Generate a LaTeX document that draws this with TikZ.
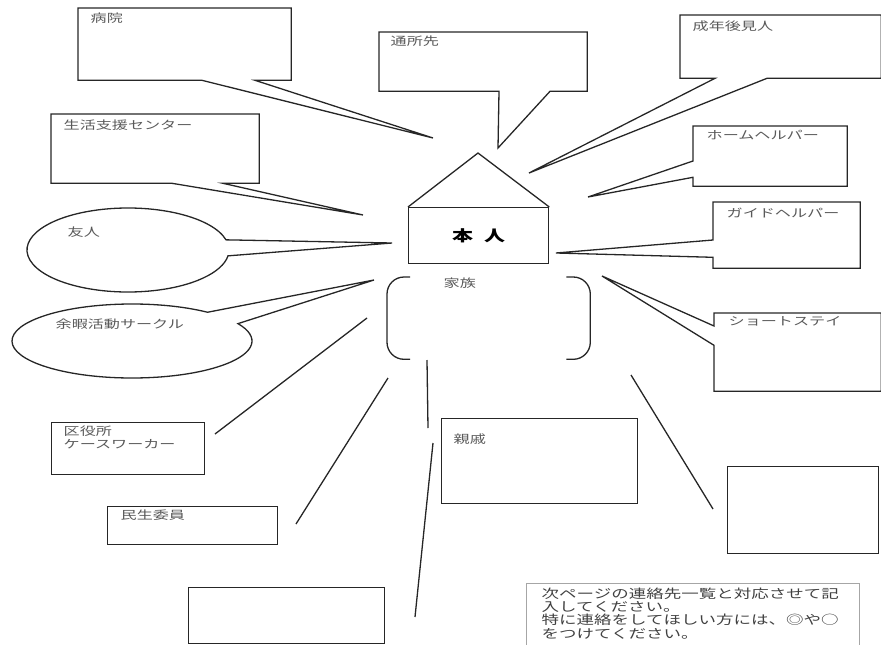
\documentclass[tikz,border=0pt]{standalone}
\usepackage{fontspec}
\newfontfamily\jp{Noto Sans CJK JP}[FakeStretch=1.4]
\usetikzlibrary{positioning}

\begin{document}
\begin{tikzpicture}[
    x=1pt, y=-1pt,
    line width=1.3pt, draw=black!85,
    frame/.style={rectangle, anchor=north west, inner sep=0pt},
    box/.style={frame, draw},
    lbl/.style={anchor=north west, inner sep=0pt, text=black!65, align=left,
        font=\jp\fontsize{11.5}{13}\selectfont},
    conn/.style={line width=1.3pt}
]
\useasboundingbox (0,0) rectangle (881,645);

% the person in the middle
\node [box, minimum width=140pt, minimum height=56pt,
       font=\jp\bfseries\fontsize{15}{18}\selectfont] (self) at (408,207) {本\hspace{11pt}人};
\coordinate (roof) at (478,153);
\draw [line join=miter] (self.north west) -- (roof) -- (self.north east);

\node [frame, minimum width=202pt, minimum height=81pt] (fam) at (387,277) {};
\draw [rounded corners=17pt] ([xshift=23pt]fam.north west) -- (fam.north west) -- (fam.south west) -- ([xshift=23pt]fam.south west);
\draw [rounded corners=17pt] ([xshift=-24pt]fam.north east) -- (fam.north east) -- (fam.south east) -- ([xshift=-24pt]fam.south east);
\node [lbl] (famlbl) at (443,277) {家族};

% callout boxes
\node [frame, minimum width=212pt, minimum height=71pt] (hosp) at (78,8) {};
\coordinate (hosp-tip) at (433,138);
\draw (hosp.south west) -- (hosp.north west) -- (hosp.north east) -- (hosp.south east)
    -- ([xshift=177pt]hosp.south west) -- (hosp-tip) -- ([xshift=124pt]hosp.south west) -- cycle;
\node [lbl] (hosplbl) at (90,12) {病院};

\node [frame, minimum width=207pt, minimum height=58pt] (day) at (379,32) {};
\coordinate (day-tip) at (498,148);
\draw (day.south west) -- (day.north west) -- (day.north east) -- (day.south east)
    -- ([xshift=171pt]day.south west) -- (day-tip) -- ([xshift=120pt]day.south west) -- cycle;
\node [lbl] (daylbl) at (390,35) {通所先};

\node [frame, minimum width=200pt, minimum height=62pt] (guard) at (680,15) {};
\coordinate (guard-tip) at (529,173);
\draw (guard.south west) -- (guard.north west) -- (guard.north east) -- (guard.south east)
    -- ([xshift=87pt]guard.south west) -- (guard-tip) -- ([xshift=35pt]guard.south west) -- cycle;
\node [lbl] (guardlbl) at (692,20) {成年後見人};

\node [frame, minimum width=207pt, minimum height=68pt] (life) at (51,114) {};
\coordinate (life-tip) at (363,215);
\draw (life.south west) -- (life.north west) -- (life.north east) -- (life.south east)
    -- ([xshift=172pt]life.south west) -- (life-tip) -- ([xshift=121pt]life.south west) -- cycle;
\node [lbl] (lifelbl) at (63,119) {生活支援センター};

\node [frame, minimum width=153pt, minimum height=59pt] (home) at (693,126) {};
\coordinate (home-tip) at (588,197);
\draw (home.north west) -- (home.north east) -- (home.south east) -- (home.south west)
    -- ([yshift=9pt]home.south west) -- (home-tip) -- ([yshift=-35pt]home.north west) -- cycle;
\node [lbl] (homelbl) at (706,130) {ホームヘルパー};

\node [frame, minimum width=146pt, minimum height=65pt] (guide) at (713,202) {};
\coordinate (guide-tip) at (556,253);
\draw (guide.north west) -- (guide.north east) -- (guide.south east) -- (guide.south west)
    -- ([yshift=11pt]guide.south west) -- (guide-tip) -- ([yshift=-38pt]guide.north west) -- cycle;
\node [lbl] (guidelbl) at (726,207) {ガイドヘルパー};

\node [frame, minimum width=166pt, minimum height=77pt] (stay) at (714,313) {};
\coordinate (stay-tip) at (602,276);
\draw (stay.north west) -- (stay.north east) -- (stay.south east) -- (stay.south west)
    -- ([yshift=46pt]stay.south west) -- (stay-tip) -- ([yshift=-13pt]stay.north west) -- cycle;
\node [lbl] (staylbl) at (728,316) {ショートステイ};

% speech balloons
\coordinate (friend) at (128,250);
\coordinate (friend-tip) at (392,243);
\draw ([shift={(14:101pt and 42pt)}]friend) arc [start angle=14, end angle=352, x radius=101pt, y radius=42pt]
    -- (friend-tip) -- cycle;
\node [lbl] (friendlbl) at (67,226) {友人};

\coordinate (club) at (132,341);
\coordinate (club-tip) at (374,280);
\draw ([shift={(51:120pt and 37pt)}]club) arc [start angle=51, end angle=388, x radius=120pt, y radius=37pt]
    -- (club-tip) -- cycle;
\node [lbl] (clublbl) at (55,318) {余暇活動サークル};

% plain boxes
\node [box, minimum width=153pt, minimum height=52pt] (ward) at (51,422) {};
\node [lbl] (wardlbl) at (63,425) {区役所\\ケースワーカー};
\node [box, minimum width=170pt, minimum height=38pt] (welf) at (107,506) {};
\node [lbl] (welflbl) at (120,509) {民生委員};
\node [box, minimum width=196pt, minimum height=56pt] (empty1) at (188,587) {};
\node [box, minimum width=196pt, minimum height=85pt] (kin) at (441,418) {};
\node [lbl] (kinlbl) at (453,433) {親戚};
\node [box, minimum width=151pt, minimum height=87pt] (empty2) at (727,466) {};

% loose lines
\coordinate (w1) at (367,318);  \coordinate (w2) at (215,434);
\coordinate (m1) at (388,378);  \coordinate (m2) at (296,524);
\coordinate (k1) at (427,360);  \coordinate (k2) at (428,428);
\coordinate (e1) at (433,443);  \coordinate (e2) at (415,617);
\coordinate (r1) at (631,375);  \coordinate (r2) at (713,509);
\draw [conn] (w1) -- (w2);
\draw [conn] (m1) -- (m2);
\draw [conn] (k1) -- (k2);
\draw [conn] (e1) -- (e2);
\draw [conn] (r1) -- (r2);

% note
\node [frame, minimum width=332pt, minimum height=62pt] (note) at (526,583) {};
\draw [black!35, line width=1pt] (note.south west) -- (note.north west) -- (note.north east) -- (note.south east);
\node [lbl, text=black!75, font=\jp\fontsize{12.5}{13.3}\selectfont] (notetxt) at (541,587)
    {次ページの連絡先一覧と対応させて記\\入してください。\\特に連絡をしてほしい方には、◎や○\\をつけてください。};
\end{tikzpicture}
\end{document}
